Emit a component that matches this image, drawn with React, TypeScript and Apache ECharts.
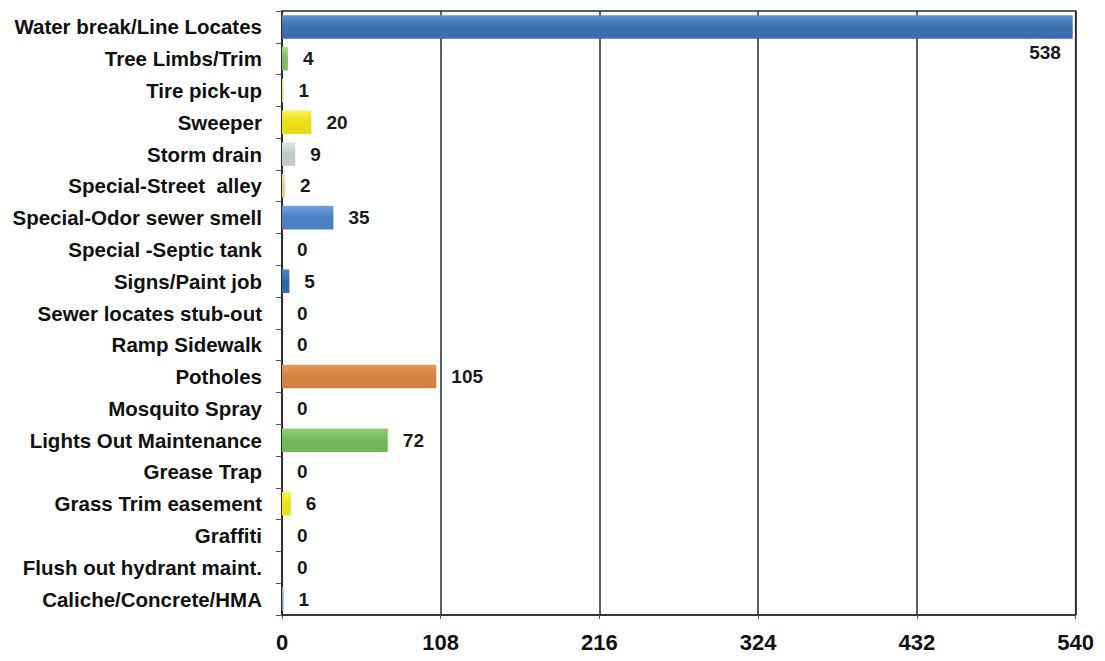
import React, { useEffect, useRef } from "react";
import * as echarts from "echarts";

const categories = [
  "Water break/Line Locates",
  "Tree Limbs/Trim",
  "Tire pick-up",
  "Sweeper",
  "Storm drain",
  "Special-Street  alley",
  "Special-Odor sewer smell",
  "Special -Septic tank",
  "Signs/Paint job",
  "Sewer locates stub-out",
  "Ramp Sidewalk",
  "Potholes",
  "Mosquito Spray",
  "Lights Out Maintenance",
  "Grease Trap",
  "Grass Trim easement",
  "Graffiti",
  "Flush out hydrant maint.",
  "Caliche/Concrete/HMA",
];

const values = [538, 4, 1, 20, 9, 2, 35, 0, 5, 0, 0, 105, 0, 72, 0, 6, 0, 0, 1];

const barColors = [
  ["#5e93d3", "#3a70b0"],
  ["#a6d98c", "#7cbf62"],
  ["#f5e6a0", "#e8d27a"],
  ["#fbf05a", "#ecdc18"],
  ["#dfe5e5", "#c0caca"],
  ["#f3e2b0", "#e6cf8a"],
  ["#6fa1dc", "#4a80c2"],
  ["#6fa1dc", "#4a80c2"],
  ["#4f88c8", "#2f6aa8"],
  ["#6fa1dc", "#4a80c2"],
  ["#6fa1dc", "#4a80c2"],
  ["#e39a5c", "#d2823f"],
  ["#6fa1dc", "#4a80c2"],
  ["#94d07a", "#72b85a"],
  ["#6fa1dc", "#4a80c2"],
  ["#faf54a", "#ece016"],
  ["#6fa1dc", "#4a80c2"],
  ["#6fa1dc", "#4a80c2"],
  ["#8fb4e0", "#6b95c8"],
];

const xTicks = { min: 0, max: 540, interval: 108 };

export default function App() {
  const ref = useRef<HTMLDivElement>(null);
  useEffect(() => {
    if (!ref.current) return;
    const chart = echarts.init(ref.current, undefined, { renderer: "svg" });
    const font = "'Liberation Sans', Arial, sans-serif";
    const data = values.map((v, i) => {
      const item: any = {
        value: v,
        itemStyle: {
          color: new echarts.graphic.LinearGradient(0, 0, 0, 1, [
            { offset: 0, color: barColors[i][0] },
            { offset: 0.5, color: barColors[i][1] },
            { offset: 1, color: barColors[i][1] },
          ]),
        },
      };
      if (i === 0) {
        item.label = {
          position: ["98.5%", "160%"],
          align: "right",
          verticalAlign: "middle",
        };
      }
      return item;
    });
    chart.setOption({
      animation: false,
      backgroundColor: "#ffffff",
      grid: {
        left: 274,
        right: 21,
        top: 3,
        bottom: 32,
        show: true,
        borderColor: "#2a2a2a",
        borderWidth: 1.5,
        containLabel: false,
      },
      xAxis: {
        type: "value",
        min: xTicks.min,
        max: xTicks.max,
        interval: xTicks.interval,
        axisLine: { show: true, lineStyle: { color: "#2a2a2a", width: 1.5 } },
        axisTick: { show: true, length: 4, lineStyle: { color: "#555" } },
        splitLine: { show: true, lineStyle: { color: "#2a2a2a", width: 1.5 } },
        axisLabel: {
          color: "#111",
          fontSize: 22,
          fontWeight: "bold",
          fontFamily: font,
          margin: 16,
        },
      },
      yAxis: {
        type: "category",
        data: categories,
        inverse: true,
        axisLine: { show: true, lineStyle: { color: "#2a2a2a", width: 1.5 } },
        axisTick: { show: true, length: 6, lineStyle: { color: "#555" } },
        axisLabel: {
          color: "#111",
          fontSize: 20.5,
          fontWeight: "bold",
          fontFamily: font,
          margin: 20,
        },
      },
      series: [
        {
          type: "bar",
          data,
          barCategoryGap: "26%",
          label: {
            show: true,
            position: "right",
            distance: 15,
            color: "#1a1a1a",
            fontSize: 19,
            fontWeight: "bold",
            fontFamily: font,
          },
        },
      ],
    });
    return () => chart.dispose();
  }, []);
  return <div ref={ref} style={{ width: 1089, height: 645 }} />;
}
